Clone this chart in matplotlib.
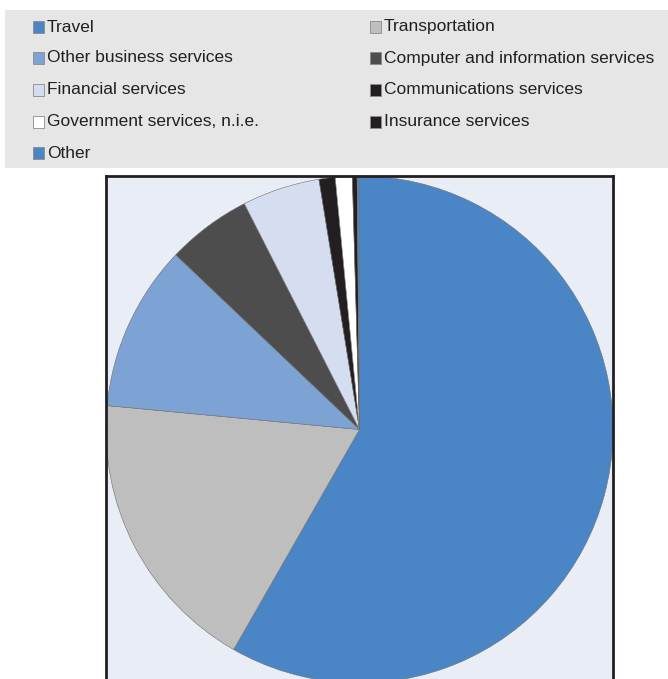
import matplotlib
matplotlib.use("Agg")
import matplotlib.pyplot as plt
from matplotlib.patches import Rectangle

categories = [
    "Travel",
    "Transportation",
    "Other business services",
    "Computer and information services",
    "Financial services",
    "Communications services",
    "Government services, n.i.e.",
    "Insurance services",
    "Other",
]
shares = [58.3, 18.25, 10.6, 5.4, 4.95, 1.03, 1.08, 0.3, 0.15]
colors = ["#4a86c5", "#bebebe", "#7da2d4", "#4d4d4d", "#d5def0",
          "#231f20", "#ffffff", "#231f20", "#4a86c5"]

W, H = 668, 679
fig = plt.figure(figsize=(W / 100, H / 100), dpi=100)
fig.patch.set_facecolor("white")

# legend panel
fig.patches.append(Rectangle((5 / W, 1 - 168 / H), (W - 5) / W, 158 / H,
                             transform=fig.transFigure, facecolor="#e6e6e6",
                             edgecolor="none", zorder=0))

font = ["Liberation Sans Narrow", "Liberation Sans", "DejaVu Sans"]
col_x = [33, 370]
row_y = [27, 58, 90, 122, 153]
sq = 11
for i, (name, c) in enumerate(zip(categories, colors)):
    col, row = i % 2, i // 2
    x0 = col_x[col]
    yc = row_y[row]
    fig.patches.append(Rectangle((x0 / W, 1 - (yc + sq / 2) / H), sq / W, sq / H,
                                 transform=fig.transFigure, facecolor=c,
                                 edgecolor="#8a8a8a", linewidth=0.6, zorder=2))
    fig.text((x0 + sq + 3) / W, 1 - yc / H, name, fontsize=12.5, family=font,
             color="#231f20", va="center", ha="left")

# pie plot area
left, right, top = 106, 613, 176
r_px = (right - left) / 2
ymin, ymax = -1.25, 1.0
h_px = (ymax - ymin) * r_px
ax = fig.add_axes([left / W, 1 - (top + h_px) / H, (right - left) / W, h_px / H])
ax.pie(shares, colors=colors, startangle=90, counterclock=False, radius=1.0,
       wedgeprops=dict(edgecolor="#6f6f6f", linewidth=0.4))
ax.set_frame_on(True)
ax.set_facecolor("#e8edf6")
ax.set_xlim(-1, 1)
ax.set_ylim(ymin, ymax)
ax.set_aspect("auto")
ax.set_xticks([])
ax.set_yticks([])
for s in ax.spines.values():
    s.set_visible(True)
    s.set_edgecolor("#231f20")
    s.set_linewidth(2)

fig.savefig("out.png", dpi=100)
